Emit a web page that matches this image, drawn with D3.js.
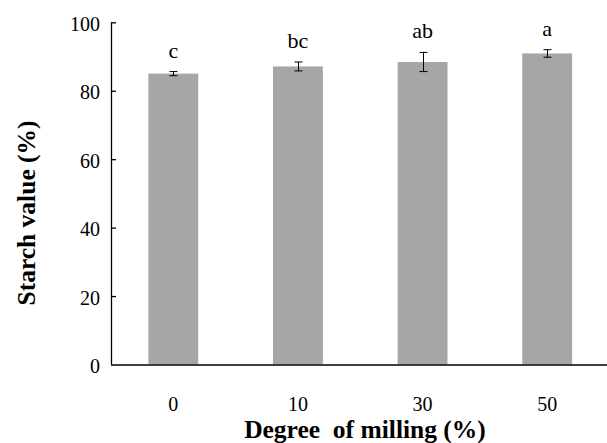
<!DOCTYPE html>
<html><head><meta charset="utf-8">
<script src="https://cdn.jsdelivr.net/npm/d3@7"></script>
<style>body{margin:0;background:#fff}svg{display:block}</style>
</head><body>
<script>
const categories = ["0","10","30","50"];
const values = [85.0, 87.1, 88.4, 90.9];
const errors = [0.6, 1.3, 2.8, 1.1];
const letters = ["c","bc","ab","a"];
const yTicks = [0,20,40,60,80,100];

const W=607,H=443;
const svg=d3.select("body").append("svg").attr("width",W).attr("height",H);
const x=d3.scaleBand().domain(categories).range([111,609.5]).paddingInner(0.6).paddingOuter(0.3);
const y=d3.scaleLinear().domain([0,100]).range([364.5,22.3]);
const font="Liberation Serif, Times New Roman, serif";

svg.selectAll("rect.bar").data(values).enter().append("rect")
  .attr("x",(d,i)=>x(categories[i])).attr("width",x.bandwidth())
  .attr("y",d=>y(d)).attr("height",d=>y(0)-y(d)).attr("fill","#a6a6a6");

const eb=svg.append("g").attr("stroke","#000").attr("stroke-width",1);
values.forEach((v,i)=>{
  const cx=Math.round(x(categories[i])+x.bandwidth()/2)+0.5;
  eb.append("line").attr("x1",cx).attr("x2",cx).attr("y1",y(v+errors[i])).attr("y2",y(v-errors[i]));
  eb.append("line").attr("x1",cx-4).attr("x2",cx+4).attr("y1",y(v+errors[i])).attr("y2",y(v+errors[i]));
  eb.append("line").attr("x1",cx-4).attr("x2",cx+4).attr("y1",y(v-errors[i])).attr("y2",y(v-errors[i]));
});
svg.selectAll("text.let").data(letters).enter().append("text")
  .attr("x",(d,i)=>x(categories[i])+x.bandwidth()/2)
  .attr("y",(d,i)=>y(values[i]+errors[i])-14)
  .attr("text-anchor","middle").style("font-family",font).style("font-size","22px").text(d=>d);

const ya=svg.append("g").attr("transform","translate(111,0)")
  .call(d3.axisRight(y).tickValues(yTicks).tickSize(5).tickFormat(d3.format("d")));
ya.select(".domain").attr("stroke","#000").attr("stroke-width",1.3).attr("d","M0.5,"+y(100)+"V"+y(0));
ya.selectAll(".tick line").attr("stroke","#000").attr("stroke-width",1.3);
ya.selectAll(".tick line").filter(d=>d===0).remove();
ya.selectAll(".tick text").attr("x",-11).attr("text-anchor","end").attr("dy","0.4em")
  .style("font-family",font).style("font-size","20px").attr("fill","#000");

const xa=svg.append("g").attr("transform","translate(0,"+y(0)+")")
  .call(d3.axisBottom(x).tickSize(0));
xa.select(".domain").attr("stroke","#000").attr("stroke-width",1.5).attr("d","M111,0.5H607");
xa.selectAll(".tick text").attr("dy","0").attr("y",46)
  .style("font-family",font).style("font-size","20px").attr("fill","#000");

svg.append("text").attr("x",365).attr("y",438).attr("text-anchor","middle")
  .style("font-family",font).style("font-weight","bold").style("font-size","25.5px")
  .style("white-space","pre").text("Degree  of milling (%)");
svg.append("text").attr("transform","translate(35,213) rotate(-90)").attr("text-anchor","middle")
  .style("font-family",font).style("font-weight","bold").style("font-size","25.5px").text("Starch value (%)");
</script>
</body></html>
